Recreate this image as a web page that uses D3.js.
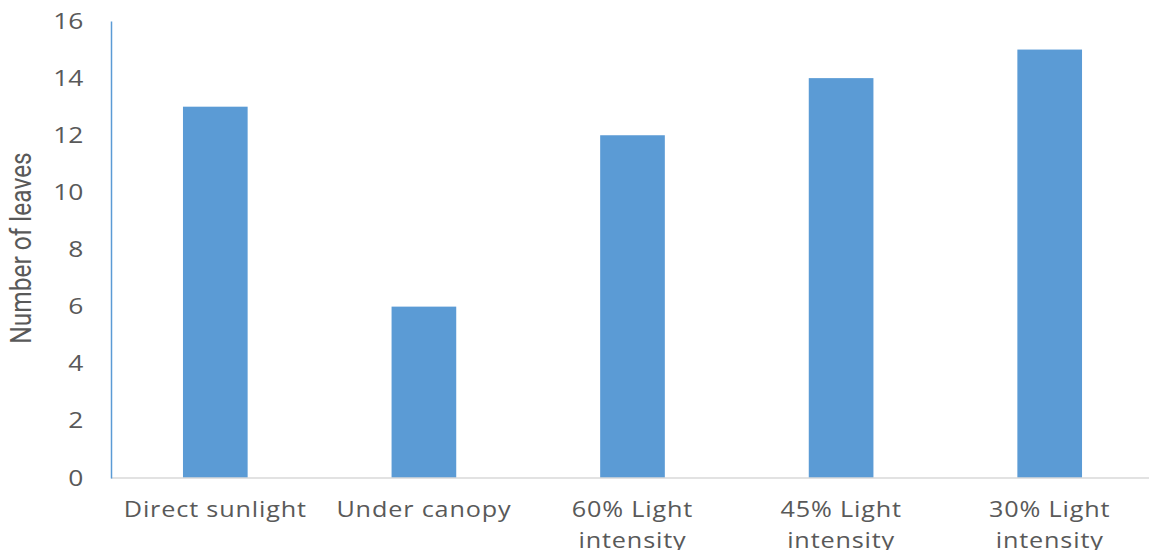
<!DOCTYPE html>
<html>
<head>
<meta charset="utf-8">
<script src="https://cdn.jsdelivr.net/npm/d3@7"></script>
<style>
  html, body { margin: 0; padding: 0; background: #fff; }
  svg { display: block; }
</style>
</head>
<body>
<svg id="chart" width="1149" height="550"></svg>
<script>
// Leaf counts per light treatment
const categories = [
  ["Direct sunlight"],
  ["Under canopy"],
  ["60% Light", "intensity"],
  ["45% Light", "intensity"],
  ["30% Light", "intensity"]
];
const leafCounts = [13, 6, 12, 14, 15];
const yTicks = [0, 2, 4, 6, 8, 10, 12, 14, 16];
const yTitle = "Number of leaves";

const svg = d3.select("#chart");
const margin = { left: 111, right: -5, top: 21, bottom: 72 };
const W = 1149, H = 550;
const stretch = 1.2; // wide lettering

const x = d3.scaleBand()
  .domain(categories.map(d => d.join(" ")))
  .range([margin.left, W - margin.right])
  .paddingInner(0.69)
  .paddingOuter(0.345);

const y = d3.scaleLinear()
  .domain([0, 16])
  .range([H - margin.bottom, margin.top]);

const textColor = "#595959";
const font = "'Open Sans', 'DejaVu Sans', sans-serif";

// Bars
svg.append("g").selectAll("rect")
  .data(leafCounts)
  .join("rect")
  .attr("x", (d, i) => x(categories[i].join(" ")))
  .attr("y", d => y(d))
  .attr("width", x.bandwidth())
  .attr("height", d => y(0) - y(d))
  .attr("fill", "#5b9bd5");

// X axis baseline
svg.append("line")
  .attr("x1", margin.left).attr("x2", W)
  .attr("y1", y(0)).attr("y2", y(0))
  .attr("stroke", "#d9d9d9").attr("stroke-width", 1.5);

// Y axis
const yAxis = svg.append("g")
  .attr("transform", `translate(${margin.left},0)`)
  .call(d3.axisLeft(y).tickValues(yTicks).tickSize(0).tickPadding(23));
yAxis.select(".domain").attr("stroke", "#5b9bd5").attr("stroke-width", 1.5);
yAxis.selectAll("text")
  .attr("fill", textColor)
  .attr("font-family", font)
  .attr("font-size", 22)
  .attr("transform", `scale(${stretch},1)`);

// X category labels
const xl = svg.append("g");
categories.forEach((lines, i) => {
  const cx = x(lines.join(" ")) + x.bandwidth() / 2;
  const t = xl.append("text")
    .attr("transform", `translate(${cx},517) scale(${stretch},1)`)
    .attr("text-anchor", "middle")
    .attr("fill", textColor)
    .attr("font-family", font)
    .attr("font-size", 21)
    .attr("letter-spacing", 0.7);
  lines.forEach((ln, j) => {
    t.append("tspan").attr("x", 0).attr("dy", j === 0 ? 0 : 31).text(ln);
  });
});

// Y axis title
svg.append("text")
  .attr("transform", `translate(31,248) scale(${stretch},1) rotate(-90)`)
  .attr("text-anchor", "middle")
  .attr("fill", textColor)
  .attr("font-family", "'Liberation Sans Narrow', 'Roboto', sans-serif")
  .attr("font-size", 24.5)
  .text(yTitle);
</script>
</body>
</html>
